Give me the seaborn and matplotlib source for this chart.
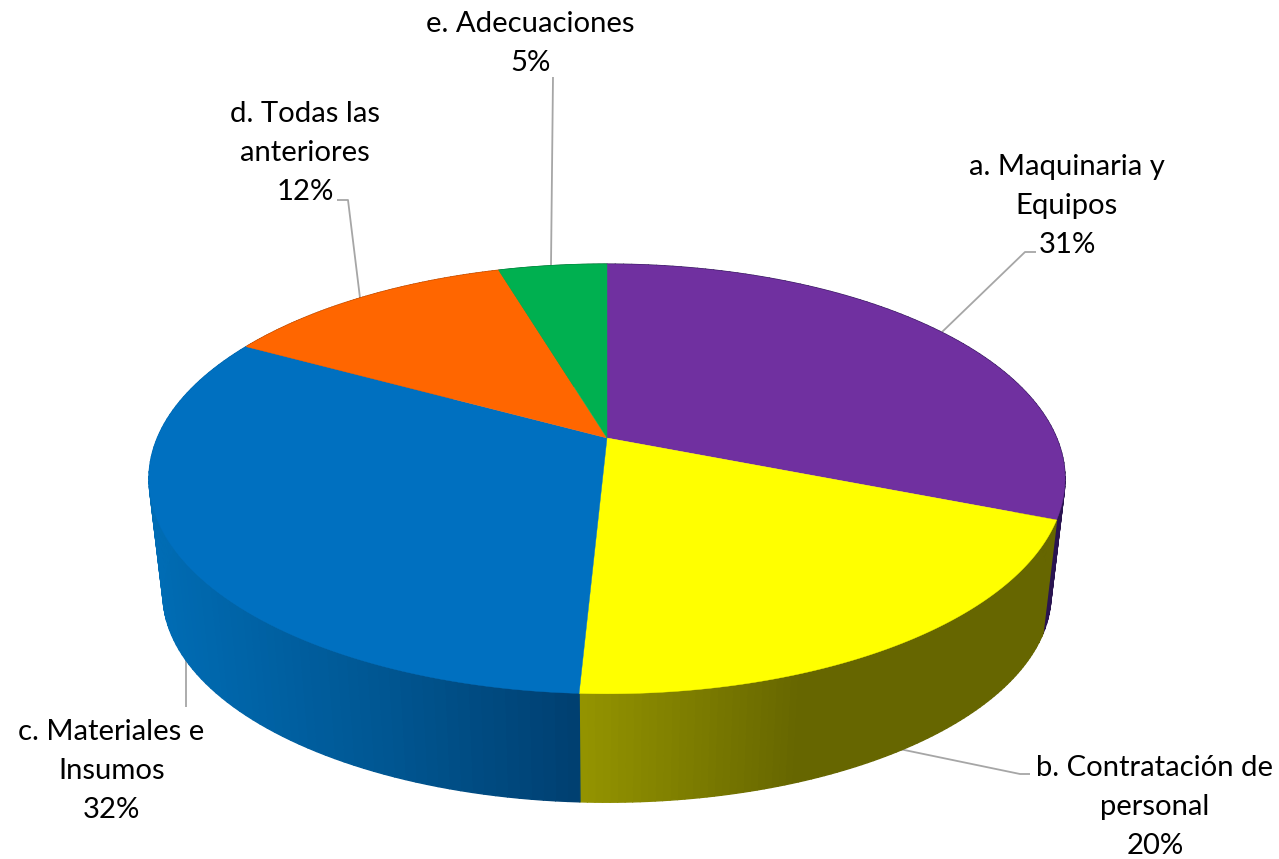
import numpy as np
import matplotlib
matplotlib.use("Agg")
import matplotlib.pyplot as plt
from matplotlib.collections import PolyCollection
from matplotlib.colors import to_rgb
import seaborn as sns

# Data
categories = ["a. Maquinaria y\nEquipos", "b. Contratación de\npersonal",
              "c. Materiales e\nInsumos", "d. Todas las\nanteriores", "e. Adecuaciones"]
values = [31.0, 19.8, 32.2, 12.4, 4.6]
top_colors = ["#7030A0", "#FFFF00", "#0070C0", "#FF6600", "#00B050"]

sns.set_theme(style="white")
plt.rcParams["font.family"] = ["Lato", "DejaVu Sans"]

W, H = 1279, 859
fig = plt.figure(figsize=(W / 100, H / 100), dpi=100)
ax = fig.add_axes([0, 0, 1, 1])
ax.set_xlim(0, W)
ax.set_ylim(H, 0)
ax.axis("off")

# Perspective geometry of the disc
CX, CY = 607.0, 438.0
K, A = 0.1907, 207.0
B = 449.6
VP_Y, SHRINK = 4250.0, 0.0305


def rim(theta):
    """theta: clockwise from the back of the disc, radians."""
    u, v = np.sin(theta), -np.cos(theta)
    den = 1 - K * v
    return CX + B * u / den, CY + A * v / den


def lower(x, y):
    return x + (CX - x) * SHRINK, y + (VP_Y - y) * SHRINK


def shade(stops):
    xs = [s[0] for s in stops]
    cols = np.array([to_rgb(s[1]) for s in stops])
    return lambda x: tuple(np.interp(x, xs, cols[:, i]) for i in range(3))


side_shades = [
    shade([(1000, "#2A1450"), (1100, "#2A1450")]),
    shade([(580, "#949400"), (800, "#666600"), (1100, "#666600")]),
    shade([(150, "#006CB4"), (400, "#00548F"), (580, "#003F70")]),
    shade([(0, "#B04500"), (1279, "#B04500")]),
    shade([(0, "#007A38"), (1279, "#007A38")]),
]

fractions = np.array(values) / np.sum(values)
edges = np.concatenate([[0], np.cumsum(fractions)]) * 2 * np.pi

# Leader lines sit behind the pie
leaders = [
    ([942, 1025, 1036], [332, 252, 252]),
    ([885, 1020, 1030], [746, 774, 774]),
    ([186, 186], [640, 707]),
    ([360, 348, 337], [298, 200, 200]),
    ([551, 553], [265, 77]),
]
for lx, ly in leaders:
    ax.plot(lx, ly, color="#A6A6A6", lw=1.3, zorder=0.5, solid_capstyle="butt")

# Sides first, then the top faces
for i in [4, 3, 0, 1, 2]:
    th = np.linspace(edges[i], edges[i + 1], 90)
    x, y = rim(th)
    xb, yb = lower(x, y)
    quads, cols = [], []
    for j in range(len(th) - 1):
        quads.append([(x[j], y[j]), (x[j + 1], y[j + 1]), (xb[j + 1], yb[j + 1]), (xb[j], yb[j])])
        cols.append(side_shades[i]((x[j] + x[j + 1]) / 2))
    ax.add_collection(PolyCollection(quads, facecolors=cols, edgecolors=cols, linewidths=1.0, zorder=1))

palette = sns.color_palette(top_colors)
for i, col in enumerate(palette):
    th = np.linspace(edges[i], edges[i + 1], 200)
    x, y = rim(th)
    ax.fill(np.r_[CX, x], np.r_[CY, y], color=col, lw=0.3, zorder=3)

# Labels: x centre and baseline of the last line, stepping up by the line pitch
label_anchor = [(1067, 253), (1155, 854), (111.5, 818), (305, 200), (530.5, 71)]
LINE_PITCH = 39
for (tx, ty), name, v in zip(label_anchor, categories, values):
    lines = f"{name}\n{round(v)}%".split("\n")
    for n, line in enumerate(lines):
        ax.text(tx, ty - LINE_PITCH * (len(lines) - 1 - n), line, ha="center", va="baseline",
                fontsize=21.1, color="black", zorder=5)

fig.savefig("out.png", dpi=100, facecolor="white")
